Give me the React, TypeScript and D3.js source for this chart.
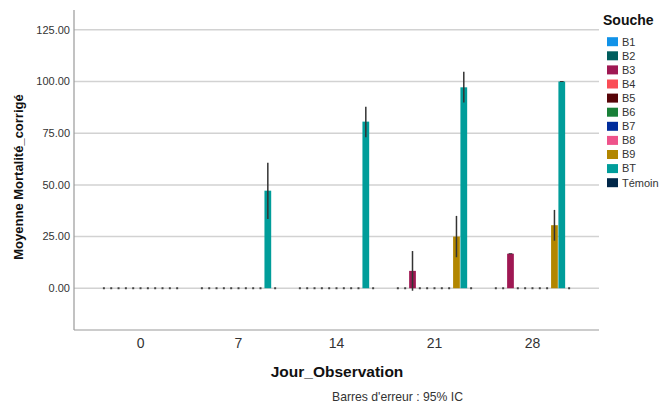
import React from "react";
import * as d3 from "d3";

const days = ["0", "7", "14", "21", "28"];
const series = ["B1", "B2", "B3", "B4", "B5", "B6", "B7", "B8", "B9", "BT", "Témoin"];
const colors = ["#1192e8", "#005d5d", "#9f1853", "#fa4d56", "#570408", "#198038", "#002d9c", "#ee538b", "#b28600", "#009d9a", "#012749"];

// mean values per series (index by day)
const B3 = [0, 0, 0, 8.4, 16.7];
const B9 = [0, 0, 0, 25.0, 30.5];
const BT = [0, 47.2, 80.6, 97.2, 100];
const zeros = [0, 0, 0, 0, 0];
const values: number[][] = [zeros, zeros, B3, zeros, zeros, zeros, zeros, zeros, B9, BT, zeros];

// 95% CI
const B3lo = [null, null, null, -1.2, 16.7];
const B3hi = [null, null, null, 18.0, 16.7];
const B9lo = [null, null, null, 15.0, 23.0];
const B9hi = [null, null, null, 35.0, 37.9];
const BTlo = [null, 33.5, 73.0, 89.9, 100];
const BThi = [null, 60.7, 87.8, 104.7, 100];
const ciLow: Record<string, (number | null)[]> = { B3: B3lo, B9: B9lo, BT: BTlo };
const ciHigh: Record<string, (number | null)[]> = { B3: B3hi, B9: B9hi, BT: BThi };

const yTicks = [0, 25, 50, 75, 100, 125];

export default function App() {
  const W = 663, H = 403;
  const left = 74, right = 599, top = 10, bottom = 330;
  const y = d3.scaleLinear().domain([-20.2, 134.6]).range([bottom, top]);
  const x0 = d3.scaleBand().domain(days).range([left, right]).paddingOuter(0.179).paddingInner(0);
  const x1 = d3.scaleBand().domain(series).range([-40.3, 40.3]).paddingInner(0.08).paddingOuter(0.04);
  const font = "'Liberation Sans', Arial, sans-serif";
  const y0 = y(0);

  return (
    <div style={{ position: "absolute", left: 0, top: 0 }}>
      <svg width={W} height={H} style={{ display: "block", fontFamily: font }}>
        <rect width={W} height={H} fill="#fff" />
        {yTicks.map((t) => (
          <g key={t}>
            <line x1={left} x2={right} y1={y(t)} y2={y(t)} stroke="#d2d2d2" strokeWidth={1.5} />
            <text x={70} y={y(t)} dy="0.35em" textAnchor="end" fontSize={11} fill="#333">
              {t.toFixed(2)}
            </text>
          </g>
        ))}
        <line x1={left} x2={left} y1={top} y2={bottom} stroke="#999" strokeWidth={1.2} />
        <line x1={left} x2={right} y1={bottom} y2={bottom} stroke="#999" strokeWidth={1.2} />
        {days.map((d, di) => {
          const cx = (x0(d) as number) + x0.bandwidth() / 2;
          return (
            <g key={d}>
              {series.map((s, si) => {
                const v = values[si][di];
                const bx = cx + (x1(s) as number);
                const bw = x1.bandwidth();
                if (v === 0) {
                  return <rect key={s} x={bx + bw / 2 - 1} y={y0 - 1} width={2} height={2} fill="#444" />;
                }
                const lo = ciLow[s] ? ciLow[s][di] : null;
                const hi = ciHigh[s] ? ciHigh[s][di] : null;
                return (
                  <g key={s}>
                    <rect x={bx} y={y(v)} width={bw} height={y0 - y(v)} fill={colors[si]} />
                    {lo !== null && hi !== null && (
                      hi - lo > 0.5 ? (
                        <line x1={bx + bw / 2} x2={bx + bw / 2} y1={y(hi)} y2={y(lo)} stroke="#333" strokeWidth={1.5} />
                      ) : (
                        <line x1={bx + 1.5} x2={bx + bw - 1.5} y1={y(hi)} y2={y(hi)} stroke="#333" strokeWidth={1} />
                      )
                    )}
                  </g>
                );
              })}
              <text x={cx} y={343} dy="0.35em" textAnchor="middle" fontSize={14} fill="#333">
                {d}
              </text>
            </g>
          );
        })}
        <text x={337} y={372} dy="0.35em" textAnchor="middle" fontSize={15.5} fontWeight="bold" fill="#111">
          Jour_Observation
        </text>
        <text x={332} y={397} dy="0.35em" fontSize={12.2} fill="#333">
          Barres d'erreur : 95% IC
        </text>
        <text transform={`translate(18,177) rotate(-90)`} dy="0.35em" textAnchor="middle" fontSize={13} fontWeight="bold" fill="#111">
          Moyenne Mortalité_corrigé
        </text>
        <text x={603} y={20} dy="0.35em" fontSize={14} fontWeight="bold" fill="#111">
          Souche
        </text>
        {series.map((s, i) => {
          const cy = 41.7 + i * 14.1;
          return (
            <g key={s}>
              <rect x={607} y={cy - 4.5} width={11} height={9} fill={colors[i]} />
              <text x={622} y={cy} dy="0.35em" fontSize={11} fill="#333">
                {s}
              </text>
            </g>
          );
        })}
      </svg>
    </div>
  );
}
